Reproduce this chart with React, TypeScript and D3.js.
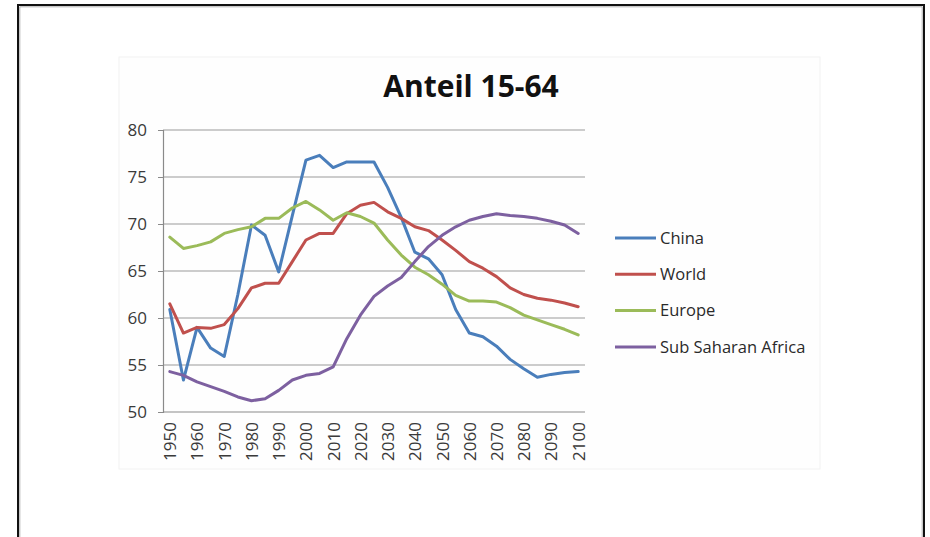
import * as React from "react";
import { select, scalePoint, scaleLinear, line, axisLeft, axisBottom } from "d3";

// data (every 5 years)
const years = [
    1950, 1955, 1960, 1965, 1970, 1975, 1980, 1985, 1990, 1995, 2000,
    2005, 2010, 2015, 2020, 2025, 2030, 2035, 2040, 2045, 2050,
    2055, 2060, 2065, 2070, 2075, 2080, 2085, 2090, 2095, 2100
];
const china = [
    60.9, 53.4, 59.0, 56.8, 55.9, 62.5, 69.9, 68.8, 64.9, 70.9, 76.8,
    77.3, 76.0, 76.6, 76.6, 76.6, 73.9, 70.7, 67.0, 66.3, 64.6,
    60.9, 58.4, 58.0, 57.0, 55.6, 54.6, 53.7, 54.0, 54.2, 54.3
];
const world = [
    61.5, 58.4, 59.0, 58.9, 59.3, 61.0, 63.2, 63.7, 63.7, 66.0, 68.3,
    69.0, 69.0, 71.1, 72.0, 72.3, 71.3, 70.6, 69.7, 69.3, 68.3,
    67.2, 66.0, 65.3, 64.4, 63.2, 62.5, 62.1, 61.9, 61.6, 61.2
];
const europe = [
    68.6, 67.4, 67.7, 68.1, 69.0, 69.4, 69.7, 70.6, 70.6, 71.7, 72.4,
    71.5, 70.4, 71.2, 70.8, 70.1, 68.3, 66.7, 65.4, 64.6, 63.6,
    62.4, 61.8, 61.8, 61.7, 61.1, 60.3, 59.8, 59.3, 58.8, 58.2
];
const subSaharanAfrica = [
    54.3, 53.9, 53.2, 52.7, 52.2, 51.6, 51.2, 51.4, 52.3, 53.4, 53.9,
    54.1, 54.8, 57.8, 60.3, 62.3, 63.4, 64.3, 66.0, 67.6, 68.8,
    69.7, 70.4, 70.8, 71.1, 70.9, 70.8, 70.6, 70.3, 69.9, 69.0
];
const seriesNames = ["China", "World", "Europe", "Sub Saharan Africa"];
const seriesColors = ["#4a7ebb", "#c0504d", "#9bbb59", "#7d60a0"];
const yTicks = [50, 55, 60, 65, 70, 75, 80];
const xTickLabels = [
    1950, 1960, 1970, 1980, 1990, 2000, 2010, 2020,
    2030, 2040, 2050, 2060, 2070, 2080, 2090, 2100
];
const title = "Anteil 15-64";

function App() {
    const svgRef = React.useRef(null);

    React.useEffect(() => {
        const svg = select(svgRef.current);
        const seriesValues = [china, world, europe, subSaharanAfrica];

        // scales
        const xScale = scalePoint()
            .domain(years)
            .range([163, 585])
            .padding(0.5);

        const yScale = scaleLinear()
            .domain([50, 80])
            .range([412, 130]);

        // gridlines
        svg.select(".grid")
            .selectAll("line")
            .data(yTicks.slice(1))
            .join("line")
            .attr("x1", 163)
            .attr("x2", 585)
            .attr("y1", d => yScale(d))
            .attr("y2", d => yScale(d))
            .attr("stroke", "#9a9a9a")
            .attr("stroke-width", 1.2);

        // axes
        const yAxis = axisLeft(yScale).tickValues(yTicks).tickSize(5).tickPadding(11);
        const yG = svg.select(".y-axis")
            .attr("transform", "translate(163,0)")
            .call(yAxis);
        yG.select(".domain").attr("stroke", "#8a8a8a").attr("stroke-width", 1.2);
        yG.selectAll(".tick line").attr("stroke", "#8a8a8a");
        yG.selectAll("text")
            .attr("font-family", "'Open Sans', sans-serif")
            .attr("font-size", 17)
            .attr("fill", "#3a3a3a");

        const xAxis = axisBottom(xScale).tickValues(xTickLabels).tickSize(0).tickSizeOuter(0);
        const xG = svg.select(".x-axis")
            .attr("transform", "translate(0,412)")
            .call(xAxis);
        xG.select(".domain").attr("stroke", "#8a8a8a").attr("stroke-width", 1.2)
            .attr("d", "M163,0H585");
        xG.selectAll("text")
            .attr("font-family", "'Open Sans', sans-serif")
            .attr("font-size", 17)
            .attr("fill", "#3a3a3a")
            .attr("text-anchor", "end")
            .attr("transform", "rotate(-90)")
            .attr("x", -10)
            .attr("y", 0)
            .attr("dy", "0.35em");

        // lines
        const lineGenerator = line()
            .x((d, i) => xScale(years[i]))
            .y(d => yScale(d));

        svg.select(".series")
            .selectAll("path")
            .data(seriesValues)
            .join("path")
            .attr("d", d => lineGenerator(d))
            .attr("fill", "none")
            .attr("stroke", (d, i) => seriesColors[i])
            .attr("stroke-width", 3)
            .attr("stroke-linejoin", "round")
            .attr("stroke-linecap", "round");

        // legend
        const legend = svg.select(".legend")
            .selectAll("g")
            .data(seriesNames)
            .join("g")
            .attr("transform", (d, i) => `translate(615, ${238 + i * 36.3})`);
        legend.selectAll("line")
            .data((d, i) => [i])
            .join("line")
            .attr("x1", 0)
            .attr("x2", 41)
            .attr("stroke", i => seriesColors[i])
            .attr("stroke-width", 3);
        legend.selectAll("text")
            .data(d => [d])
            .join("text")
            .attr("x", 45)
            .attr("dy", "0.35em")
            .attr("font-family", "'Open Sans', sans-serif")
            .attr("font-size", 16.5)
            .attr("fill", "#2a2a2a")
            .text(d => d);
    }, []);

    return (
        <svg
            ref={svgRef}
            width={930}
            height={537}
            style={{ position: "absolute", left: 0, top: 0, background: "#fff" }}
        >
            <rect x={119} y={57} width={701} height={412} fill="#fefefe" stroke="#f2f2f2" />
            <path d="M18,537V5H924V537" fill="none" stroke="#111" strokeWidth={2} />
            <path d="M19.8,537V6.8H922.2V537" fill="none" stroke="#9a9a9a" strokeWidth={0.8} />
            <text
                x={471}
                y={97}
                textAnchor="middle"
                fontFamily="'Open Sans', sans-serif"
                fontWeight="bold"
                fontSize={30}
                fill="#111"
            >
                {title}
            </text>
            <g className="grid" />
            <g className="y-axis" />
            <g className="x-axis" />
            <g className="series" />
            <g className="legend" />
        </svg>
    );
}
export default App;
